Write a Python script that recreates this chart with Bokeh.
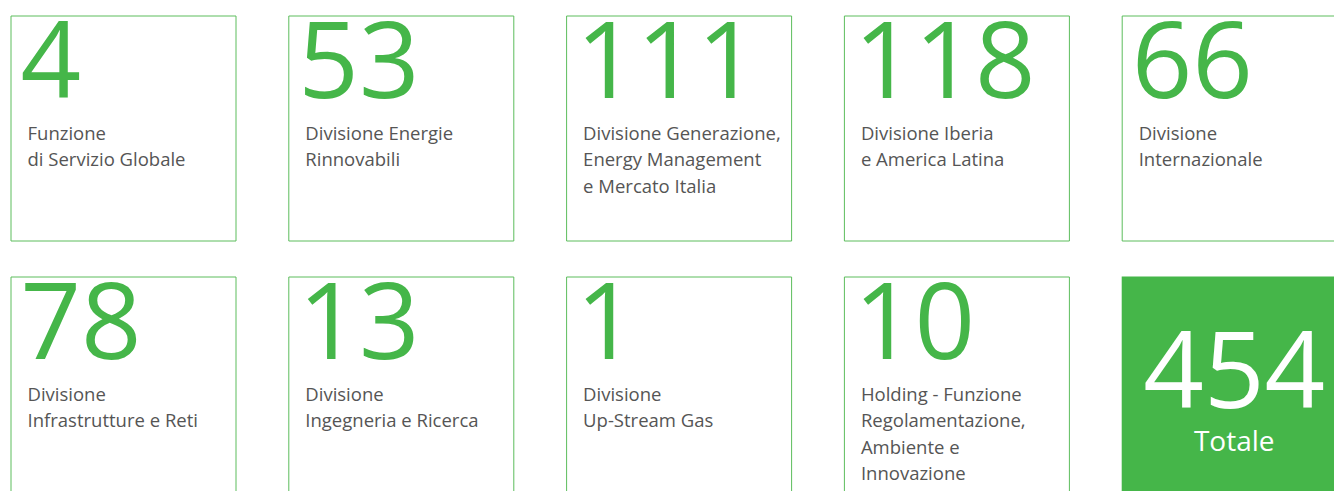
from bokeh.plotting import figure
from bokeh.models import Range1d, ColumnDataSource
from bokeh.core.properties import value
from bokeh.embed import file_html
from bokeh.resources import INLINE

# ---- data ----
values = [4, 53, 111, 118, 66, 78, 13, 1, 10]
labels = [
    "Funzione\ndi Servizio Globale",
    "Divisione Energie\nRinnovabili",
    "Divisione Generazione,\nEnergy Management\ne Mercato Italia",
    "Divisione Iberia\ne America Latina",
    "Divisione\nInternazionale",
    "Divisione\nInfrastrutture e Reti",
    "Divisione\nIngegneria e Ricerca",
    "Divisione\nUp-Stream Gas",
    "Holding - Funzione\nRegolamentazione,\nAmbiente e\nInnovazione",
]
total_value = 454
total_label = "Totale"

# ---- layout (pixel-like coordinates) ----
W, H = 1334, 491
X0, Y0 = 0, 0
COLS = 5
LEFT0, TOP0 = 10, 15
STEP_X, STEP_Y = 277.8, 261
BOX = 225
GREEN = "#45b649"
BORDER = "#5cbd5c"
GREY = "#555555"
NUM_FS, LAB_FS, TOT_FS = 106, 18.5, 28
BASE_FIX = 0.38  # baseline correction (em)

p = figure(width=W, height=H, output_backend="svg", toolbar_location=None,
           x_range=Range1d(X0, X0 + W), y_range=Range1d(Y0 + H, Y0),
           min_border=0, outline_line_color=None, background_fill_color="white",
           border_fill_color="white")
p.axis.visible = False
p.xgrid.visible = False
p.ygrid.visible = False

n = len(values)
lefts = [LEFT0 + (i % COLS) * STEP_X for i in range(n)]
tops = [TOP0 + (i // COLS) * STEP_Y for i in range(n)]

box_src = ColumnDataSource(dict(
    left=[l + 0.5 for l in lefts], right=[l + BOX + 0.5 for l in lefts],
    top=[t + 0.5 for t in tops], bottom=[t + BOX + 0.5 for t in tops]))
p.quad(left="left", right="right", top="top", bottom="bottom", source=box_src,
       fill_color=None, line_color=BORDER, line_width=1)

num_src = ColumnDataSource(dict(x=[l + 10 for l in lefts],
                                y=[t + 85 - BASE_FIX * NUM_FS for t in tops],
                                text=[str(v) for v in values]))
p.text(x="x", y="y", text="text", source=num_src, text_font=value("Open Sans"),
       text_font_size=f"{NUM_FS}px", text_color=GREEN, text_baseline="alphabetic",
       text_align="left", text_line_height=1.0)

lx, ly, lt = [], [], []
for i, lab in enumerate(labels):
    for j, line in enumerate(lab.split("\n")):
        lx.append(lefts[i] + 17)
        ly.append(tops[i] + 124 + j * 26.5 - BASE_FIX * LAB_FS)
        lt.append(line)
lab_src = ColumnDataSource(dict(x=lx, y=ly, text=lt))
p.text(x="x", y="y", text="text", source=lab_src, text_font=value("Open Sans"),
       text_font_size=f"{LAB_FS}px", text_color=GREY, text_baseline="alphabetic",
       text_align="left", text_line_height=1.0)

# total box
ti = n
tl = LEFT0 + (ti % COLS) * STEP_X
tt = TOP0 + (ti // COLS) * STEP_Y
p.quad(left=[tl], right=[tl + BOX], top=[tt], bottom=[tt + BOX],
       fill_color=GREEN, line_color=None)
p.text(x=[tl + BOX / 2], y=[tt + 134 - BASE_FIX * NUM_FS], text=[str(total_value)],
       text_font=value("Open Sans"), text_font_size=f"{NUM_FS}px", text_color="white",
       text_baseline="alphabetic", text_align="center", text_line_height=1.0)
p.text(x=[tl + BOX / 2], y=[tt + 174 - BASE_FIX * TOT_FS], text=[total_label],
       text_font=value("Open Sans"), text_font_size=f"{TOT_FS}px", text_color="white",
       text_baseline="alphabetic", text_align="center", text_line_height=1.0)

open("out.html", "w").write(file_html(p, INLINE))
